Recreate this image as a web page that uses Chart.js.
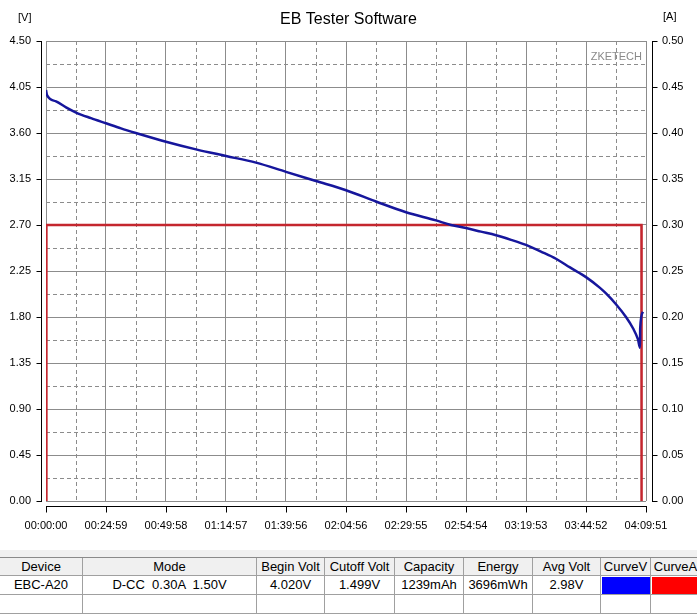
<!DOCTYPE html>
<html><head><meta charset="utf-8">
<script src="https://cdn.jsdelivr.net/npm/chart.js@4.4.1/dist/chart.umd.min.js"></script>
<style>
html,body{margin:0;padding:0;background:#fff;overflow:hidden;width:697px;height:614px;font-family:"Liberation Sans",Arial,sans-serif;}
#wrap{position:absolute;left:0;top:0;width:697px;height:550px;}
#band{position:absolute;left:0;top:550px;width:697px;height:7px;background:#f0f0f0;}
#tbl{position:absolute;left:0;top:557px;width:697px;height:57px;overflow:hidden;}
.cell{position:absolute;box-sizing:border-box;border-right:1px solid #a0a0a0;border-bottom:1px solid #a0a0a0;font-size:13px;line-height:18px;text-align:center;white-space:pre;color:#000;overflow:hidden;}
.hdr{background:#f0f0f0;}
.sw{position:absolute;left:1px;top:1px;right:0;bottom:0;}
</style>
</head><body>
<div id="wrap"><canvas id="c" width="697" height="550"></canvas></div>
<div id="band"></div>
<div id="tbl"></div>
<script>
// ---- data ----
const voltTimes  = [0, 25, 250, 500, 750, 1124, 1499, 1874, 2249, 2998, 3748, 4497, 5247, 5996, 6746, 7496, 8245, 8995, 9744, 10119, 10494, 10868, 11243, 11618, 11993, 12367, 12742, 13092, 13492, 13842, 13992, 14241, 14491, 14666, 14791, 14841, 14846, 14916];
const voltValues = [4.02, 3.97, 3.91, 3.85, 3.80, 3.745, 3.695, 3.645, 3.60, 3.515, 3.44, 3.375, 3.31, 3.22, 3.13, 3.04, 2.93, 2.825, 2.745, 2.70, 2.67, 2.635, 2.60, 2.555, 2.505, 2.44, 2.37, 2.285, 2.19, 2.085, 2.03, 1.925, 1.80, 1.69, 1.58, 1.50, 1.69, 1.85];
const currTimes  = [0, 10, 14878, 14880];
const currValues = [0, 0.30, 0.30, 0];
const xTickLabels = ['00:00:00','00:24:59','00:49:58','01:14:57','01:39:56','02:04:56','02:29:55','02:54:54','03:19:53','03:44:52','04:09:51'];
const voltTickLabels = ['0.00','0.45','0.90','1.35','1.80','2.25','2.70','3.15','3.60','4.05','4.50'];
const currTickLabels = ['0.00','0.05','0.10','0.15','0.20','0.25','0.30','0.35','0.40','0.45','0.50'];
const tableHeaders = ['Device','Mode','Begin Volt','Cutoff Volt','Capacity','Energy','Avg Volt','CurveV','CurveA'];
const tableRow = ['EBC-A20','D-CC  0.30A  1.50V','4.020V','1.499V','1239mAh','3696mWh','2.98V','',''];
const curveSwatches = {CurveV:'#0000ff', CurveA:'#ff0000'};

// ---- derived ----
const toSec = s => { const p = s.split(':').map(Number); return p[0]*3600 + p[1]*60 + p[2]; };
const xTickVals = xTickLabels.map(toSec);
const voltTickVals = voltTickLabels.map(Number);
const currTickVals = currTickLabels.map(Number);
const voltPts = voltTimes.map((t,i)=>({x:t, y:voltValues[i]}));
const currPts = currTimes.map((t,i)=>({x:t, y:currValues[i]}));

Chart.defaults.font.family = '"Liberation Sans", Arial, sans-serif';
Chart.defaults.font.size = 11;
Chart.defaults.color = '#000';

const GRID = '#8c8c8c';
const decor = {
  id:'decor',
  beforeDatasetsDraw(chart){
    const {ctx, chartArea:a, scales} = chart;
    ctx.save();
    ctx.strokeStyle = GRID; ctx.lineWidth = 1; ctx.setLineDash([4,3]);
    for (let i=0;i<xTickVals.length-1;i++){
      const px = Math.round(scales.x.getPixelForValue((xTickVals[i]+xTickVals[i+1])/2))+0.5;
      ctx.beginPath(); ctx.moveTo(px,a.top); ctx.lineTo(px,a.bottom); ctx.stroke();
    }
    for (let i=0;i<voltTickVals.length-1;i++){
      const py = Math.round(scales.y.getPixelForValue((voltTickVals[i]+voltTickVals[i+1])/2))+0.5;
      ctx.beginPath(); ctx.moveTo(a.left,py); ctx.lineTo(a.right,py); ctx.stroke();
    }
    ctx.restore();
  },
  afterDraw(chart){
    const {ctx, chartArea:a, scales} = chart;
    ctx.save();
    ctx.strokeStyle = '#000'; ctx.lineWidth = 1; ctx.setLineDash([]);
    const lx = Math.round(a.left)-5+0.5, rx = Math.round(a.right)+6+0.5, by = Math.round(a.bottom)+5+0.5;
    ctx.beginPath();
    ctx.moveTo(lx, a.top); ctx.lineTo(lx, a.bottom+1);
    voltTickVals.forEach(v=>{const py=Math.round(scales.y.getPixelForValue(v))+0.5; ctx.moveTo(lx-5,py); ctx.lineTo(lx,py);});
    ctx.moveTo(rx, a.top); ctx.lineTo(rx, a.bottom+1);
    currTickVals.forEach(v=>{const py=Math.round(scales.y1.getPixelForValue(v))+0.5; ctx.moveTo(rx,py); ctx.lineTo(rx+5,py);});
    ctx.moveTo(a.left, by); ctx.lineTo(a.right+1, by);
    xTickVals.forEach(v=>{const px=Math.round(scales.x.getPixelForValue(v))+0.5; ctx.moveTo(px,by); ctx.lineTo(px,by+6);});
    ctx.stroke();
    ctx.font = '11px "Liberation Sans", Arial, sans-serif';
    ctx.fillStyle = '#000'; ctx.textBaseline = 'middle';
    ctx.textAlign = 'left'; ctx.fillText('[V]', 18, 18);
    ctx.fillText('[A]', 663, 17);
    ctx.fillStyle = '#8a8a8a'; ctx.textAlign = 'right';
    ctx.fillText('ZKETECH', a.right-4, 57);
    ctx.restore();
  }
};

new Chart(document.getElementById('c'), {
  type:'line',
  data:{datasets:[
    {label:'CurveV', data:voltPts, yAxisID:'y', borderColor:'#16169c', borderWidth:2.5, pointRadius:0, cubicInterpolationMode:'monotone'},
    {label:'CurveA', data:currPts, yAxisID:'y1', borderColor:'#c4262e', borderWidth:2.5, pointRadius:0, tension:0}
  ]},
  plugins:[decor],
  options:{
    responsive:false, animation:false, devicePixelRatio:1,
    layout:{padding:0},
    plugins:{
      legend:{display:false}, tooltip:{enabled:false},
      title:{display:true, text:'EB Tester Software', color:'#000', font:{size:16, weight:'normal'}, padding:{top:10, bottom:11.8}}
    },
    scales:{
      x:{type:'linear', min:0, max:xTickVals[xTickVals.length-1],
        afterBuildTicks:s=>{s.ticks = xTickVals.map(v=>({value:v}));},
        ticks:{callback:(v,i)=>xTickLabels[i], autoSkip:false, maxRotation:0, padding:18, color:'#000'},
        grid:{color:GRID, drawTicks:false, lineWidth:1}, border:{display:false},
        afterFit:s=>{s.height=49;}},
      y:{type:'linear', position:'left', min:0, max:voltTickVals[voltTickVals.length-1],
        afterBuildTicks:s=>{s.ticks = voltTickVals.map(v=>({value:v}));},
        ticks:{callback:(v,i)=>voltTickLabels[i], padding:15, color:'#000'},
        grid:{color:GRID, drawTicks:false, lineWidth:1}, border:{display:false},
        afterFit:s=>{s.width=46;}},
      y1:{type:'linear', position:'right', min:0, max:currTickVals[currTickVals.length-1],
        afterBuildTicks:s=>{s.ticks = currTickVals.map(v=>({value:v}));},
        ticks:{callback:(v,i)=>currTickLabels[i], padding:16, color:'#000'},
        grid:{drawOnChartArea:false, drawTicks:false}, border:{display:false},
        afterFit:s=>{s.width=51;}}
    }
  }
});

// ---- table ----
const colWidths = [83,174,68,70,69,69,68,50,50];
const rowTops = [0,19,38];
const tbl = document.getElementById('tbl');
const topLine = document.createElement('div');
topLine.style.cssText='position:absolute;left:0;top:0;width:697px;height:1px;background:#8a8a8a;z-index:2';
tbl.appendChild(topLine);
const rows = [tableHeaders, tableRow, tableHeaders.map(()=> '')];
rows.forEach((r,ri)=>{
  let x=0;
  r.forEach((txt,ci)=>{
    const d=document.createElement('div');
    d.className='cell'+(ri===0?' hdr':'');
    d.style.left=x+'px'; d.style.top=rowTops[ri]+'px';
    d.style.width=colWidths[ci]+'px'; d.style.height='19px';
    if(ri===0) d.style.paddingTop='1px';
    d.textContent=txt;
    if(ri===1 && curveSwatches[tableHeaders[ci]]){
      const s=document.createElement('div'); s.className='sw';
      s.style.background=curveSwatches[tableHeaders[ci]];
      d.appendChild(s);
    }
    tbl.appendChild(d);
    x+=colWidths[ci];
  });
});
</script>
</body></html>
